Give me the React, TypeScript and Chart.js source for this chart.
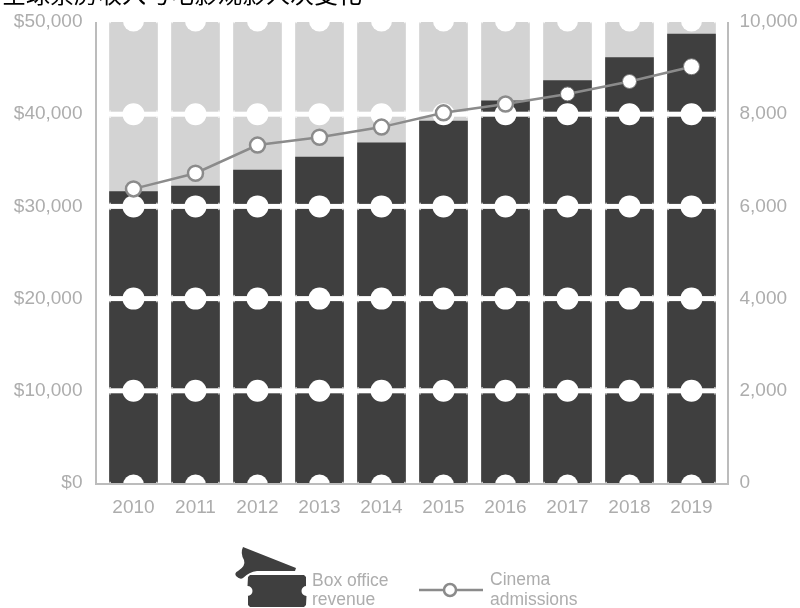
import React, { useEffect, useRef } from "react";
import { Chart, registerables } from "chart.js";

Chart.register(...registerables);

const years = ["2010", "2011", "2012", "2013", "2014", "2015", "2016", "2017", "2018", "2019"];
const boxOffice = [31600, 32200, 33950, 35350, 36900, 39250, 41450, 43650, 46150, 48700];
const ticketStub = [50000, 50000, 50000, 50000, 50000, 50000, 50000, 50000, 50000, 50000];
const admissions = [6380, 6720, 7330, 7500, 7720, 8030, 8220, 8440, 8710, 9030];
const titleText = "全球票房收入与电影观影人次变化";
const boxLegend = ["Box office", "revenue"];
const lineLegend = ["Cinema", "admissions"];

const DARK = "#3f3f3f";
const LIGHT = "#d3d3d3";
const AXIS = "#bcbcbc";
const TICK = "#adadad";
const LINE = "#8b8b8b";

const ticketPlugin = {
  id: "ticketPlugin",
  beforeDatasetDraw(chart: any, args: any) {
    if (args.meta.type !== "line") return;
    const { ctx, scales } = chart;
    const y0 = scales.y;
    const bars = chart.getDatasetMeta(0).data;
    ctx.save();
    ctx.fillStyle = "#ffffff";
    y0.ticks.forEach((t: any) => {
      const y = y0.getPixelForValue(t.value);
      const edge = t.value === y0.min || t.value === y0.max;
      bars.forEach((b: any) => {
        const w = b.width;
        if (!edge) ctx.fillRect(b.x - w / 2 - 1, y - 2.5, w + 2, 5);
        ctx.beginPath();
        const cy = t.value === y0.min ? y + 2 : t.value === y0.max ? y - 1 : y;
        ctx.arc(b.x, cy, edge ? 10.5 : 11, 0, Math.PI * 2);
        ctx.fill();
      });
    });
    // ticket corners: small rounded masks at every tear
    y0.ticks.forEach((t: any) => {
      const y = y0.getPixelForValue(t.value);
      bars.forEach((b: any) => {
        const l = b.x - b.width / 2;
        const r = b.x + b.width / 2;
        const off = t.value === y0.min ? [-1] : t.value === y0.max ? [1] : [-1, 1];
        off.forEach((s: number) => {
          const yy = t.value === y0.min || t.value === y0.max ? y : y + s * 2.5;
          ctx.fillRect(l, s > 0 ? yy : yy - 1.2, 1.2, 1.2);
          ctx.fillRect(r - 1.2, s > 0 ? yy : yy - 1.2, 1.2, 1.2);
        });
      });
    });
    // axis frame
    const { left, right, top, bottom } = chart.chartArea;
    ctx.strokeStyle = AXIS;
    ctx.lineWidth = 2;
    ctx.beginPath();
    ctx.moveTo(left - 6.5, top);
    ctx.lineTo(left - 6.5, bottom + 1);
    ctx.lineTo(right + 5.5, bottom + 1);
    ctx.lineTo(right + 5.5, top);
    ctx.stroke();
    ctx.restore();
  },
  afterDraw(chart: any) {
    const { ctx } = chart;
    ctx.save();
    // ticket icon, torn stub
    ctx.fillStyle = DARK;
    ctx.beginPath();
    ctx.moveTo(243, 547);
    ctx.lineTo(296, 568);
    ctx.lineTo(295, 571);
    ctx.lineTo(257, 571);
    ctx.quadraticCurveTo(249, 572, 243, 578);
    ctx.quadraticCurveTo(240, 580, 236, 576);
    ctx.quadraticCurveTo(234, 573, 238, 571);
    ctx.quadraticCurveTo(246, 566, 244, 560);
    ctx.quadraticCurveTo(240, 553, 243, 547);
    ctx.fill();
    // ticket icon, body
    ctx.beginPath();
    ctx.moveTo(250, 575);
    ctx.lineTo(304, 575);
    ctx.lineTo(306, 577);
    ctx.lineTo(306, 586);
    ctx.arc(306.5, 591, 5, -Math.PI / 2, Math.PI / 2, true);
    ctx.lineTo(306, 605);
    ctx.lineTo(304, 607);
    ctx.lineTo(250, 607);
    ctx.lineTo(248, 605);
    ctx.lineTo(248, 596);
    ctx.arc(247.5, 591, 5, Math.PI / 2, -Math.PI / 2, true);
    ctx.lineTo(248, 577);
    ctx.closePath();
    ctx.fill();
    // line key
    ctx.strokeStyle = LINE;
    ctx.lineWidth = 2.5;
    ctx.beginPath();
    ctx.moveTo(419, 590);
    ctx.lineTo(483, 590);
    ctx.stroke();
    ctx.fillStyle = "#ffffff";
    ctx.beginPath();
    ctx.arc(450, 590, 6, 0, Math.PI * 2);
    ctx.fill();
    ctx.stroke();
    // key text
    ctx.fillStyle = TICK;
    ctx.font = '17.5px "Liberation Sans", Arial, sans-serif';
    ctx.textAlign = "left";
    ctx.textBaseline = "middle";
    ctx.fillText(boxLegend[0], 312, 581);
    ctx.fillText(boxLegend[1], 312, 600);
    ctx.fillText(lineLegend[0], 490, 580);
    ctx.fillText(lineLegend[1], 490, 600);
    ctx.restore();
  },
};

export default function App() {
  const ref = useRef<HTMLCanvasElement>(null);
  useEffect(() => {
    const font = { family: '"Liberation Sans", Arial, sans-serif', size: 19 };
    const chart = new Chart(ref.current as HTMLCanvasElement, {
      type: "bar",
      data: {
        labels: years,
        datasets: [
          { type: "bar", label: "Box office revenue", data: boxOffice, backgroundColor: DARK, yAxisID: "y", order: 1, grouped: false, barThickness: 48, borderWidth: 0 },
          { type: "bar", label: "Ticket", data: ticketStub, backgroundColor: LIGHT, yAxisID: "y", order: 2, grouped: false, barThickness: 48, borderWidth: 0 },
          {
            type: "line",
            label: "Cinema admissions",
            data: admissions,
            yAxisID: "y1",
            order: 0,
            borderColor: LINE,
            borderWidth: 2.5,
            tension: 0,
            pointRadius: [7.5, 7.5, 7.5, 7.5, 7.5, 7.5, 7.5, 7, 7, 8],
            pointBorderWidth: [2.5, 2.5, 2.5, 2.5, 2.5, 2.5, 2.5, 1, 1, 1],
            pointBackgroundColor: "#ffffff",
            pointBorderColor: [LINE, LINE, LINE, LINE, LINE, LINE, LINE, "#777777", "#777777", "#777777"],
          },
        ],
      } as any,
      options: {
        responsive: false,
        animation: false,
        devicePixelRatio: 1,
        layout: { padding: { top: 22, left: 0, right: 0, bottom: 0 } },
        plugins: { legend: { display: false }, tooltip: { enabled: false }, title: { display: false } },
        scales: {
          x: {
            grid: { display: false },
            border: { display: false },
            ticks: { color: TICK, font, padding: 5, maxRotation: 0 },
            afterFit(s: any) { s.height = 125; },
          },
          y: {
            position: "left",
            min: 0,
            max: 50000,
            grid: { display: false, drawTicks: false },
            border: { display: false },
            ticks: { stepSize: 10000, color: TICK, font, padding: 20, callback: (v: any) => "$" + Number(v).toLocaleString("en-US") },
            afterFit(s: any) { s.width = 102.5; s.paddingTop = 0; s.paddingBottom = 0; },
          },
          y1: {
            position: "right",
            min: 0,
            max: 10000,
            grid: { display: false, drawTicks: false },
            border: { display: false },
            ticks: { stepSize: 2000, color: TICK, font, padding: 17, callback: (v: any) => Number(v).toLocaleString("en-US") },
            afterFit(s: any) { s.width = 77.5; s.paddingTop = 0; s.paddingBottom = 0; },
          },
        },
      } as any,
      plugins: [ticketPlugin as any],
    });
    return () => chart.destroy();
  }, []);
  return (
    <div style={{ position: "fixed", left: 0, top: 0, width: 800, height: 608, overflow: "hidden", background: "#fff" }}>
      <canvas ref={ref} width={800} height={608} style={{ display: "block", filter: "blur(0.6px)" }} />
      <div
        style={{
          position: "absolute",
          left: 2,
          top: -20,
          font: '24px/26px "Noto Sans CJK SC", sans-serif',
          color: "#000",
          whiteSpace: "nowrap",
          filter: "blur(0.4px)",
        }}
      >
        {titleText}
      </div>
    </div>
  );
}
